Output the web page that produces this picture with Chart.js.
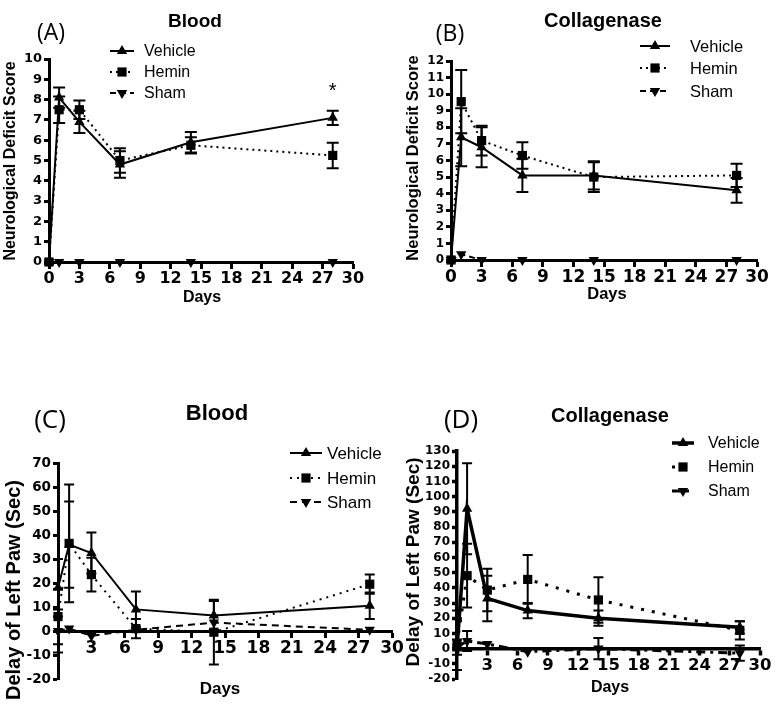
<!DOCTYPE html>
<html><head><meta charset="utf-8">
<script src="https://cdn.jsdelivr.net/npm/chart.js"></script>
<style>
html,body{margin:0;padding:0;background:#fff;}
body{width:776px;height:704px;position:relative;overflow:hidden;font-family:"Liberation Sans",Arial,sans-serif;}
canvas{position:absolute;}
.t{position:absolute;white-space:nowrap;color:#000;line-height:1;transform:translate(-50%,-50%);}
.letter{font-family:"Open Sans",sans-serif;font-weight:400;}
.b{font-weight:bold;}
.yt{font-weight:bold;transform:translate(-50%,-50%) rotate(-90deg);}
</style></head><body>
<canvas id="cA" width="388" height="330" style="left:0;top:0"></canvas>
<canvas id="cB" width="388" height="330" style="left:388px;top:0"></canvas>
<canvas id="cC" width="410" height="364" style="left:0;top:340px"></canvas>
<canvas id="cD" width="388" height="364" style="left:388px;top:340px"></canvas>

<div class="t letter" style="left:51px;top:31px;font-size:23px">(A)</div>
<div class="t b" style="left:195px;top:20px;font-size:19px">Blood</div>
<div class="t b" style="left:202px;top:297px;font-size:16px">Days</div>
<div class="t yt" style="left:10px;top:161px;font-size:16px">Neurological Deficit Score</div>

<div class="t letter" style="left:450px;top:32px;font-size:23px">(B)</div>
<div class="t b" style="left:603px;top:20px;font-size:20px">Collagenase</div>
<div class="t b" style="left:607px;top:293px;font-size:16.5px">Days</div>
<div class="t yt" style="left:412px;top:158px;font-size:16.5px">Neurological Deficit Score</div>

<div class="t letter" style="left:50px;top:418px;font-size:26px">(C)</div>
<div class="t b" style="left:217px;top:413px;font-size:22px">Blood</div>
<div class="t b" style="left:220px;top:688px;font-size:17px">Days</div>
<div class="t yt" style="left:13px;top:590px;font-size:20px">Delay of Left Paw (Sec)</div>

<div class="t letter" style="left:461px;top:418px;font-size:26px">(D)</div>
<div class="t b" style="left:610px;top:415px;font-size:20px">Collagenase</div>
<div class="t b" style="left:610px;top:687px;font-size:16px">Days</div>
<div class="t yt" style="left:412px;top:562px;font-size:19px">Delay of Left Paw (Sec)</div>

<script>
// ---------- data ----------
const days = [0, 1, 3, 7, 14, 28];
const seriesNames = ['Vehicle', 'Hemin', 'Sham'];

// (A) Blood - neurological deficit score
const vehA = [0, 8.1, 6.9, 4.8, 5.9, 7.1];
const vehAErr = [0, 0.5, 0.55, 0.65, 0.5, 0.35];
const hemA = [0, 7.5, 7.5, 5.0, 5.75, 5.25];
const hemAErr = [0, 0.65, 0.45, 0.6, 0.4, 0.63];
const shamA = [0, 0, 0, 0, 0, 0];
const shamAErr = [0, 0, 0, 0, 0, 0];
const starA = [{x: 28, y: 8.55}];

// (B) Collagenase - neurological deficit score
const vehB = [0, 7.4, 6.8, 5.1, 5.1, 4.2];
const vehBErr = [0, 1.75, 1.2, 1.0, 0.85, 0.75];
const hemB = [0, 9.55, 7.2, 6.3, 5.0, 5.1];
const hemBErr = [0, 1.9, 0.9, 0.8, 0.9, 0.7];
const shamB = [0, 0.35, 0, 0, 0, 0];
const shamBErr = [0, 0, 0, 0, 0, 0];

// (C) Blood - delay of left paw
const vehC = [18, 36, 32.5, 9, 6.5, 10.5];
const vehCErr = [12, 18, 8.5, 7.5, 6, 5.5];
const hemC = [6, 36.5, 23.5, 1, -0.5, 19.5];
const hemCErr = [11.5, 24.5, 7, 4, 13.5, 4];
const shamC = [0, 1, -2, 0.5, 3.5, 0.5];
const shamCErr = [9, 0, 0, 0, 0, 0];

// (D) Collagenase - delay of left paw
const vehD = [0, 92, 33, 25, 20, 14];
const vehDErr = [25, 30, 15, 5, 5, 4];
const hemD = [3, 48, 38.5, 45.5, 32, 12];
const hemDErr = [17, 21, 14, 16, 15, 6];
const shamD = [1, 5, 3, -2, 0, -3];
const shamDErr = [5, 6.5, 0, 0, 7, 5];

// ---------- helpers ----------
function drawMarker(ctx, style, rot, r, x, y) {
  ctx.save();
  ctx.fillStyle = '#000';
  ctx.beginPath();
  if (style === 'rect') {
    const s = r * Math.SQRT1_2;
    ctx.rect(x - s, y - s, 2 * s, 2 * s);
  } else {
    let rad = rot * Math.PI / 180;
    for (let k = 0; k < 3; k++) {
      const px = x + Math.sin(rad) * r, py = y - Math.cos(rad) * r;
      if (k === 0) ctx.moveTo(px, py); else ctx.lineTo(px, py);
      rad += 2 * Math.PI / 3;
    }
    ctx.closePath();
  }
  ctx.fill();
  ctx.restore();
}

const errPlugin = {
  id: 'errbars',
  afterDatasetsDraw(chart, args, opts) {
    const ctx = chart.ctx, xs = chart.scales.x, ys = chart.scales.y, ca = chart.chartArea;
    ctx.save();
    ctx.strokeStyle = '#000';
    ctx.lineWidth = opts.width;
    ctx.setLineDash([]);
    chart.data.datasets.forEach(ds => {
      if (!ds.err) return;
      ds.data.forEach((p, i) => {
        const e = ds.err[i];
        if (!e) return;
        const x = xs.getPixelForValue(p.x);
        const yTop = ys.getPixelForValue(p.y + e), yBot = ys.getPixelForValue(p.y - e);
        const t = Math.max(yTop, ca.top - 4), b = Math.min(yBot, ca.bottom);
        ctx.beginPath();
        ctx.moveTo(x, t); ctx.lineTo(x, b);
        if (yTop >= ca.top - 4) { ctx.moveTo(x - opts.cap, yTop); ctx.lineTo(x + opts.cap, yTop); }
        if (yBot <= ca.bottom) { ctx.moveTo(x - opts.cap, yBot); ctx.lineTo(x + opts.cap, yBot); }
        ctx.stroke();
      });
    });
    ctx.restore();
  }
};

const legendPlugin = {
  id: 'lgd',
  afterDraw(chart, args, o) {
    const ctx = chart.ctx;
    ctx.save();
    chart.data.datasets.forEach((ds, i) => {
      const y = o.rows[i];
      ctx.strokeStyle = '#000';
      ctx.lineWidth = ds.borderWidth;
      ctx.setLineDash(ds.borderDash || []);
      ctx.beginPath();
      ctx.moveTo(o.x1, y); ctx.lineTo(o.x2, y);
      ctx.stroke();
      ctx.setLineDash([]);
      drawMarker(ctx, ds.pointStyle, ds.pointRotation || 0, ds.pointRadius, (o.x1 + o.x2) / 2, y);
      ctx.fillStyle = '#000';
      ctx.font = o.size + 'px "Liberation Sans", Arial, sans-serif';
      ctx.textBaseline = 'middle';
      ctx.textAlign = 'left';
      ctx.fillText(ds.label, o.tx, y + 1);
    });
    ctx.restore();
  }
};

const starPlugin = {
  id: 'stars',
  afterDraw(chart, args, o) {
    if (!o.points) return;
    const ctx = chart.ctx;
    ctx.save();
    ctx.fillStyle = '#000';
    ctx.font = '20px "Liberation Sans", Arial, sans-serif';
    ctx.textAlign = 'center';
    ctx.textBaseline = 'middle';
    o.points.forEach(p => ctx.fillText('*', chart.scales.x.getPixelForValue(p.x), chart.scales.y.getPixelForValue(p.y) + 3));
    ctx.restore();
  }
};

function mkSet(label, vals, err, kind, lw, dash) {
  const base = {
    label, err,
    data: days.map((d, i) => ({x: d, y: vals[i]})),
    borderColor: '#000', backgroundColor: '#000',
    pointBackgroundColor: '#000', pointBorderColor: '#000', pointBorderWidth: 0,
    borderWidth: lw, borderDash: dash, tension: 0, clip: false, fill: false
  };
  if (kind === 'veh') Object.assign(base, {pointStyle: 'triangle', pointRotation: 0, pointRadius: 6});
  if (kind === 'hem') Object.assign(base, {pointStyle: 'rect', pointRotation: 0, pointRadius: 6.5});
  if (kind === 'sham') Object.assign(base, {pointStyle: 'triangle', pointRotation: 180, pointRadius: 6});
  return base;
}

function makeChart(id, cfg) {
  const cv = document.getElementById(id);
  const W = cv.width, H = cv.height;
  const tickGrid = {display: true, drawOnChartArea: false, drawTicks: true, tickLength: 5, tickWidth: cfg.axisW, tickColor: '#000', color: '#000'};
  new Chart(cv, {
    type: 'line',
    data: {datasets: cfg.sets},
    options: {
      responsive: false, animation: false, events: [],
      layout: {padding: {left: 0, top: cfg.T, right: W - cfg.R, bottom: H - cfg.B}},
      plugins: {
        legend: {display: false}, tooltip: {enabled: false},
        errbars: {width: cfg.errW, cap: cfg.cap},
        lgd: cfg.legend,
        stars: {points: cfg.stars}
      },
      scales: {
        x: {
          type: 'linear', min: 0, max: 30, position: {y: 0},
          ticks: {stepSize: 3, autoSkip: false, maxRotation: 0, padding: 2, color: '#000',
            font: {family: 'DejaVu Sans', weight: 'bold', size: cfg.xFont},
            callback: v => (cfg.hideZero && v === 0) ? '' : String(v)},
          grid: tickGrid,
          border: {display: true, width: cfg.axisW, color: '#000'}
        },
        y: {
          type: 'linear', min: cfg.ymin, max: cfg.ymax, position: 'left',
          afterFit: s => { s.width = cfg.L; },
          ticks: {stepSize: cfg.ystep, autoSkip: false, padding: 2, color: '#000',
            font: {family: 'DejaVu Sans', weight: 'bold', size: cfg.yFont}},
          grid: tickGrid,
          border: {display: true, width: cfg.axisW, color: '#000'}
        }
      }
    },
    plugins: [errPlugin, legendPlugin, starPlugin]
  });
}

makeChart('cA', {
  L: 49, R: 353, T: 59, B: 262, ymin: 0, ymax: 10, ystep: 1, xFont: 16, yFont: 13, axisW: 3,
  errW: 2, cap: 6, hideZero: false, stars: starA,
  legend: {x1: 110, x2: 134, tx: 144, rows: [51, 72, 93], size: 16},
  sets: [
    mkSet(seriesNames[0], vehA, vehAErr, 'veh', 2, []),
    mkSet(seriesNames[1], hemA, hemAErr, 'hem', 2, [2, 4]),
    mkSet(seriesNames[2], shamA, shamAErr, 'sham', 2, [6, 4])
  ]
});

makeChart('cB', {
  L: 63, R: 369, T: 61, B: 260, ymin: 0, ymax: 12, ystep: 1, xFont: 17, yFont: 12, axisW: 3,
  errW: 2, cap: 6, hideZero: false, stars: null,
  legend: {x1: 252, x2: 282, tx: 302, rows: [46, 68, 91], size: 16.5},
  sets: [
    mkSet(seriesNames[0], vehB, vehBErr, 'veh', 2, []),
    mkSet(seriesNames[1], hemB, hemBErr, 'hem', 2, [2, 4]),
    mkSet(seriesNames[2], shamB, shamBErr, 'sham', 2, [6, 4])
  ]
});

makeChart('cC', {
  L: 58, R: 392, T: 123, B: 339, ymin: -20, ymax: 70, ystep: 10, xFont: 17, yFont: 13.5, axisW: 3,
  errW: 2, cap: 5, hideZero: true, stars: null,
  legend: {x1: 290, x2: 322, tx: 327, rows: [113, 138, 162], size: 17},
  sets: [
    mkSet(seriesNames[0], vehC, vehCErr, 'veh', 2, []),
    mkSet(seriesNames[1], hemC, hemCErr, 'hem', 2, [2, 5]),
    mkSet(seriesNames[2], shamC, shamCErr, 'sham', 2, [7, 5])
  ]
});

makeChart('cD', {
  L: 69, R: 372, T: 111, B: 339, ymin: -20, ymax: 130, ystep: 10, xFont: 16.5, yFont: 12, axisW: 3.5,
  errW: 2, cap: 5, hideZero: true, stars: null,
  legend: {x1: 284, x2: 306, tx: 320, rows: [103, 127, 151], size: 16},
  sets: [
    mkSet(seriesNames[0], vehD, vehDErr, 'veh', 3.5, []),
    mkSet(seriesNames[1], hemD, hemDErr, 'hem', 3, [3, 8]),
    mkSet(seriesNames[2], shamD, shamDErr, 'sham', 3, [9, 5, 3, 5])
  ]
});
</script>
</body></html>
